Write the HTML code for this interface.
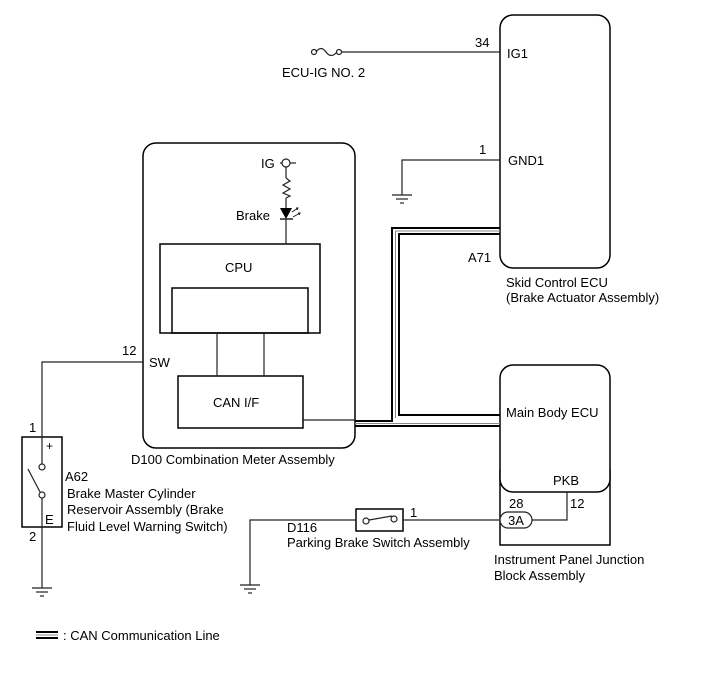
<!DOCTYPE html>
<html><head><meta charset="utf-8"><style>
html,body{margin:0;padding:0;background:#fff;}
svg{display:block;}
text{font-family:"Liberation Sans",Arial,sans-serif;font-size:13px;fill:#000;}
</style></head><body>
<svg width="713" height="681" viewBox="0 0 713 681" xmlns="http://www.w3.org/2000/svg">
<g fill="none" stroke="#000" stroke-width="1.5">
<rect x="500" y="15" width="110" height="253" rx="13"/>
<rect x="143" y="143" width="212" height="305" rx="13"/>
<rect x="160" y="244" width="160" height="89"/>
<rect x="172" y="288" width="136" height="45"/>
<rect x="178" y="376" width="125" height="52"/>
<rect x="500" y="470" width="110" height="75"/>
<rect x="500" y="365" width="110" height="127" rx="13" fill="#fff"/>
<rect x="22" y="437" width="40" height="90"/>
<rect x="356" y="509" width="47" height="22"/>
</g>
<g fill="none" stroke="#222" stroke-width="1.2">
<line x1="217" y1="333" x2="217" y2="376"/>
<line x1="264" y1="333" x2="264" y2="376"/>
<line x1="303" y1="420" x2="355" y2="420"/>
<line x1="280" y1="163" x2="296" y2="163"/>
<circle cx="286" cy="163" r="4" fill="#fff"/>
<line x1="286" y1="167" x2="286" y2="178"/>
<polyline points="286,178 290,181 283,185 290,189 283,193 290,196 286,198"/>
<line x1="286" y1="198" x2="286" y2="208"/>
<line x1="286" y1="219" x2="286" y2="244"/>
<line x1="280" y1="219" x2="293" y2="219" stroke-width="1.5"/>
<path d="M292,212 L298,208 M296,208 L298,208 L297,210 M293,217 L300,213 M298,213 L300,213 L299,215" stroke-width="1"/>
<line x1="341" y1="52" x2="500" y2="52"/>
<circle cx="314" cy="52" r="2.5"/>
<circle cx="339" cy="52" r="2.5"/>
<path d="M316,52 Q321,45 326,52 Q331,59 337,52"/>
<polyline points="500,160 402,160 402,195"/>
<polyline points="143,362 42,362 42,437"/>
<line x1="42" y1="437" x2="42" y2="464"/>
<circle cx="42" cy="467" r="3" fill="#fff"/>
<circle cx="42" cy="495" r="3" fill="#fff"/>
<line x1="28" y1="469" x2="40" y2="492"/>
<line x1="42" y1="498" x2="42" y2="588"/>
<polyline points="356,520 250,520 250,585"/>
<line x1="403" y1="520" x2="500" y2="520"/>
<circle cx="366" cy="521" r="3" fill="#fff"/>
<circle cx="394" cy="519" r="3" fill="#fff"/>
<line x1="369" y1="520" x2="392" y2="516"/>
<polyline points="532,520 567,520 567,492"/>
<rect x="500" y="512" width="32" height="16" rx="8" fill="#fff"/>
</g>
<g stroke="#222" stroke-width="1.2">
<line x1="392" y1="195" x2="412" y2="195"/><line x1="396" y1="199" x2="408" y2="199"/><line x1="400" y1="203" x2="404" y2="203"/>
<line x1="32" y1="588" x2="52" y2="588"/><line x1="36" y1="592" x2="48" y2="592"/><line x1="40" y1="596" x2="44" y2="596"/>
<line x1="240" y1="585" x2="260" y2="585"/><line x1="244" y1="589" x2="256" y2="589"/><line x1="248" y1="593" x2="252" y2="593"/>
</g>
<polygon points="280,208 292,208 286,219" fill="#000"/>
<g fill="none">
<path d="M500,228 H392 V421 H355" stroke="#000" stroke-width="2"/>
<path d="M500,231 H395.5 V418" stroke="#888" stroke-width="1"/>
<path d="M500,234 H399 V415 H500" stroke="#000" stroke-width="2"/>
<path d="M355,423.5 H500" stroke="#888" stroke-width="1"/>
<path d="M355,426 H500" stroke="#000" stroke-width="2"/>
<line x1="36" y1="632" x2="58" y2="632" stroke="#000" stroke-width="2"/>
<line x1="36" y1="635" x2="58" y2="635" stroke="#888" stroke-width="1"/>
<line x1="36" y1="638" x2="58" y2="638" stroke="#000" stroke-width="2"/>
</g>
<text x="475" y="47">34</text>
<text x="507" y="58">IG1</text>
<text x="282" y="77">ECU-IG NO. 2</text>
<text x="479" y="154">1</text>
<text x="508" y="165">GND1</text>
<text x="468" y="262">A71</text>
<text x="506" y="287">Skid Control ECU</text>
<text x="506" y="302">(Brake Actuator Assembly)</text>
<text x="261" y="168">IG</text>
<text x="236" y="220">Brake</text>
<text x="225" y="272">CPU</text>
<text x="213" y="407">CAN I/F</text>
<text x="122" y="355">12</text>
<text x="149" y="367">SW</text>
<text x="131" y="464">D100  Combination Meter Assembly</text>
<text x="29" y="432">1</text>
<text x="46" y="450" style="font-size:12px">+</text>
<text x="45" y="524">E</text>
<text x="29" y="541">2</text>
<text x="65" y="481">A62</text>
<text x="67" y="498">Brake Master Cylinder</text>
<text x="67" y="514">Reservoir Assembly (Brake</text>
<text x="67" y="531">Fluid Level Warning Switch)</text>
<text x="287" y="532">D116</text>
<text x="287" y="547">Parking Brake Switch Assembly</text>
<text x="410" y="517">1</text>
<text x="506" y="417">Main Body ECU</text>
<text x="553" y="485">PKB</text>
<text x="509" y="508">28</text>
<text x="570" y="508">12</text>
<text x="508" y="525">3A</text>
<text x="494" y="564">Instrument Panel Junction</text>
<text x="494" y="580">Block Assembly</text>
<text x="63" y="640">: CAN Communication Line</text>
</svg>
</body></html>
